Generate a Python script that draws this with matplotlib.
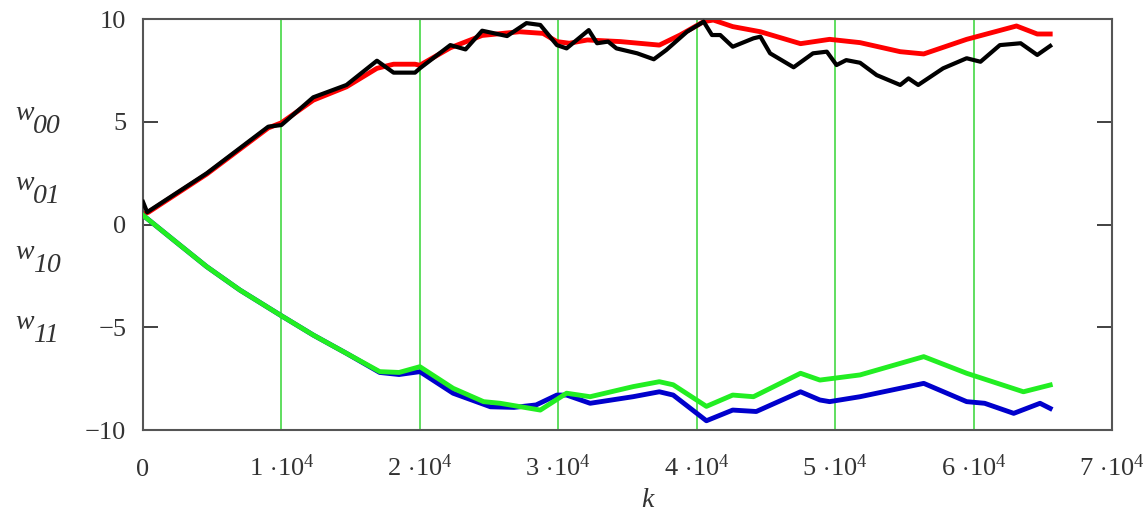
# weights w00..w11 versus iteration k (Mathcad-style plot)

from matplotlib import pyplot as plt
import numpy as np

plt.rcParams['mathtext.fontset'] = 'custom'
plt.rcParams['mathtext.rm'] = 'Liberation Serif'
plt.rcParams['mathtext.it'] = 'Liberation Serif:italic'
plt.rcParams['font.family'] = 'Liberation Serif'

k_w00 = [0, 400, 4600, 9050, 10000, 12300, 14700, 16900, 18100, 19650, 20000, 22200,
         24500, 27200, 28900, 29900, 30800, 32100, 34500, 37300, 38800, 40500, 41200,
         42600, 44600, 47500, 49600, 51800, 54700, 56400, 59500, 63100, 64600, 65536]
w00 = [0.5, 0.6, 2.45, 4.7, 4.95, 6.05, 6.7, 7.6, 7.8, 7.8, 7.75, 8.6,
       9.2, 9.38, 9.3, 8.9, 8.82, 8.98, 8.9, 8.73, 9.22, 9.87, 9.95,
       9.63, 9.38, 8.8, 9.01, 8.85, 8.41, 8.3, 9.01, 9.66, 9.27, 9.27]

k_w01 = [0, 300, 4600, 9050, 10000, 12300, 14700, 16900, 18100, 19650, 20000, 22200,
         23300, 24500, 26300, 27700, 28700, 29900, 30600, 32200, 32800, 33600, 34200,
         35700, 36900, 37800, 39300, 40500, 41100, 41700, 42600, 44100, 44600, 45300,
         47000, 48400, 49400, 50100, 50800, 51800, 53000, 54700, 55300, 56000, 57800,
         59500, 60500, 61900, 63400, 64600, 65536]
w01 = [1.1, 0.6, 2.49, 4.76, 4.84, 6.19, 6.79, 7.97, 7.39, 7.39, 7.6, 8.73,
       8.52, 9.43, 9.17, 9.8, 9.71, 8.73, 8.57, 9.46, 8.82, 8.9, 8.57,
       8.33, 8.04, 8.49, 9.38, 9.87, 9.22, 9.22, 8.65, 9.06, 9.14, 8.33,
       7.65, 8.33, 8.41, 7.76, 8.0, 7.87, 7.27, 6.79, 7.11, 6.79, 7.6,
       8.09, 7.92, 8.73, 8.82, 8.25, 8.69]

k_w10 = [0, 2200, 4600, 7000, 9900, 12300, 14700, 17100, 18500, 20000, 22400, 25100,
         26800, 28400, 29900, 30600, 32300, 35400, 37300, 38300, 40700, 42600, 44300,
         47500, 48900, 49600, 51800, 56400, 59500, 60800, 62900, 64800, 65536]
w10 = [0.45, -0.75, -2.05, -3.19, -4.4, -5.38, -6.27, -7.2, -7.3, -7.16, -8.21, -8.87,
       -8.9, -8.78, -8.3, -8.3, -8.7, -8.38, -8.14, -8.3, -9.55, -9.03, -9.1,
       -8.14, -8.54, -8.62, -8.38, -7.73, -8.62, -8.7, -9.19, -8.7, -8.95]

k_w11 = [0, 2200, 4600, 7000, 9900, 12300, 14700, 17100, 18500, 20000, 22400, 24600,
         25800, 28700, 30600, 32300, 35400, 37300, 38300, 40700, 42600, 44100, 47500,
         48900, 51800, 56400, 59500, 63600, 65536]
w11 = [0.45, -0.75, -2.05, -3.19, -4.4, -5.38, -6.27, -7.16, -7.2, -6.92, -7.97, -8.62,
       -8.7, -9.03, -8.21, -8.38, -7.89, -7.65, -7.8, -8.85, -8.3, -8.38, -7.24,
       -7.57, -7.32, -6.43, -7.24, -8.14, -7.81]

x_ticks = [0, 1e4, 2e4, 3e4, 4e4, 5e4, 6e4, 7e4]
x_labels = ['0'] + [r'$%d\,\cdot\!10^{4}$' % i for i in range(1, 8)]
y_ticks = [-10, -5, 0, 5, 10]
subs = ['00', '01', '10', '11']

f = plt.figure(figsize=(11.47, 5.11), dpi=100)
ax = f.add_axes([143/1147, 81/511, 969/1147, 411/511])

for xg in x_ticks[1:-1]:
    ax.axvline(xg, color='#44d844', lw=1.2, zorder=1)

ax.plot(k_w00, w00, color='#ff0000', lw=3.5, zorder=2)
ax.plot(k_w01, w01, color='black', lw=3, zorder=3)
ax.plot(k_w10, w10, color='#0000cc', lw=3.5, zorder=2)
ax.plot(k_w11, w11, color='#22ee22', lw=3.5, zorder=3)

ax.set_xlim(0, 7e4)
ax.set_ylim(-10, 10)
ax.set_xticks(x_ticks)
ax.set_xticklabels(x_labels)
ax.set_yticks(y_ticks)
ax.tick_params(axis='x', length=0, pad=33, labelsize=19, colors='#333333')
ax.tick_params(axis='y', direction='in', length=11, width=1.3, right=True,
               pad=12, labelsize=19, colors='#333333')
for lbl in ax.get_xticklabels():
    lbl.set_va('baseline')
for s in ax.spines.values():
    s.set_color('#555555')
    s.set_linewidth(1.5)

# axis label k
f.text(647/1147, 1 - 507/511, 'k', fontsize=20, style='italic', color='#333333',
       ha='center', va='baseline')

# stacked y labels w00 .. w11
for i, s in enumerate(subs):
    yb = 133 + 69.7*i
    f.text(15/1147, 1 - (yb - 13)/511, 'w', fontsize=20, style='italic',
           color='#333333', ha='left', va='baseline')
    f.text(33/1147, 1 - yb/511, s, fontsize=20, style='italic',
           color='#333333', ha='left', va='baseline')

plt.savefig('out.png', dpi=100)
